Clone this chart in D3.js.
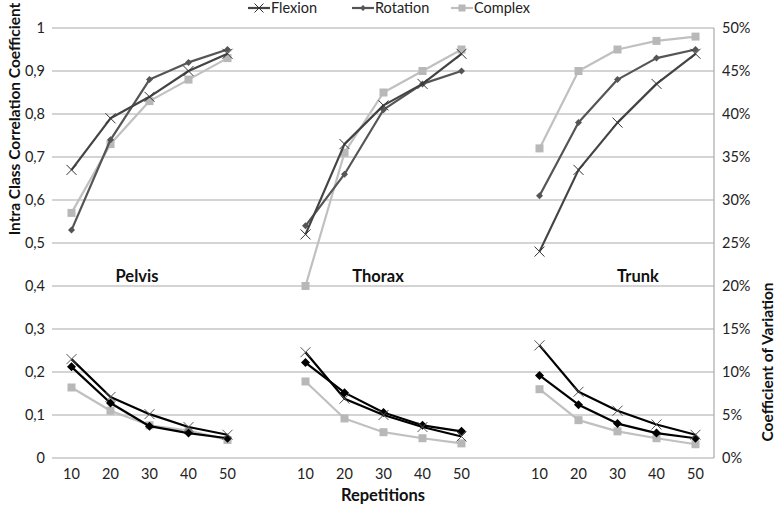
<!DOCTYPE html>
<html><head><meta charset="utf-8">
<script src="https://cdn.jsdelivr.net/npm/d3@7"></script>
<style>body{margin:0;background:#fff}svg{display:block;font-family:Lato,"Open Sans",sans-serif}</style>
</head><body><svg id="c" width="777" height="507"></svg>
<script>
const groups = ["Pelvis","Thorax","Trunk"];
const reps = ["10","20","30","40","50"];
const series = ["Flexion","Rotation","Complex"];
// ICC values (left axis), Pelvis | Thorax | Trunk
const iccFlexion  = [0.67,0.79,0.84,0.90,0.94, 0.52,0.73,0.82,0.87,0.94, 0.48,0.67,0.78,0.87,0.94];
const iccRotation = [0.53,0.74,0.88,0.92,0.95, 0.54,0.66,0.81,0.87,0.90, 0.61,0.78,0.88,0.93,0.95];
const iccComplex  = [0.57,0.73,0.83,0.88,0.93, 0.40,0.71,0.85,0.90,0.95, 0.72,0.90,0.95,0.97,0.98];
// Coefficient of variation (%) (right axis)
const cvFlexion  = [11.5,7.1,5.1,3.6,2.7, 12.3,6.9,5.0,3.6,2.5, 13.1,7.7,5.5,3.9,2.7];
const cvRotation = [10.6,6.4,3.7,2.9,2.3, 11.1,7.6,5.3,3.8,3.1, 9.6,6.2,4.0,2.9,2.3];
const cvComplex  = [8.2,5.5,3.8,3.2,2.1, 8.9,4.6,3.0,2.3,1.7, 8.0,4.4,3.1,2.3,1.6];
const leftTicks = [0,0.1,0.2,0.3,0.4,0.5,0.6,0.7,0.8,0.9,1];
const rightTicks = [0,5,10,15,20,25,30,35,40,45,50];

const svg = d3.select("#c");
const L = 52, R = 714, T = 28, B = 458;
// slots: 5 reps per group plus one blank between groups
const slots = [];
groups.forEach((g,gi)=>{ reps.forEach((r,ri)=>slots.push(g+"-"+r)); if(gi<groups.length-1) slots.push("gap"+gi); });
const x = d3.scaleBand().domain(slots).range([L,R+1]).padding(0);
const cx = i => { const gi = Math.floor(i/5), ri = i%5; return x(groups[gi]+"-"+reps[ri]) + x.bandwidth()/2; };
const yL = d3.scaleLinear().domain([0,1]).range([B,T]);
const yR = d3.scaleLinear().domain([0,50]).range([B,T]);

const grid = "#a9a9a9";
svg.append("g").selectAll("line").data(leftTicks).join("line")
  .attr("x1",L).attr("x2",R).attr("y1",d=>yL(d)).attr("y2",d=>yL(d))
  .attr("stroke",grid).attr("stroke-width",1.2);
svg.append("line").attr("x1",R).attr("x2",R).attr("y1",T).attr("y2",B).attr("stroke",grid).attr("stroke-width",1.2);

const fmtL = d => d===0?"0":d===1?"1":d3.format(".1f")(d).replace(".",",");
const gl = svg.append("g").attr("transform",`translate(${L-4},0)`)
  .call(d3.axisLeft(yL).tickValues(leftTicks).tickFormat(fmtL).tickSize(0));
gl.select(".domain").remove();
gl.selectAll("text").attr("font-size",14.5).attr("fill","#222").attr("font-family","Lato, sans-serif");

const gr = svg.append("g").attr("transform",`translate(${R+8},0)`)
  .call(d3.axisRight(yR).tickValues(rightTicks).tickFormat(d=>d+"%").tickSize(0));
gr.select(".domain").remove();
gr.selectAll("text").attr("font-size",14.5).attr("fill","#222").attr("font-family","Lato, sans-serif").attr("x",0);

const gx = svg.append("g").attr("transform",`translate(0,${B+8})`)
  .call(d3.axisBottom(x).tickSize(0).tickFormat(d=>d.startsWith("gap")?"":d.split("-")[1]));
gx.select(".domain").remove();
gx.selectAll("text").attr("font-size",14.5).attr("fill","#222").attr("font-family","Lato, sans-serif");

svg.append("text").attr("transform","translate(20,119) rotate(-90)").attr("text-anchor","middle")
  .attr("font-weight","bold").attr("font-size",15.5).attr("fill","#111").text("Intra Class Correlation Coefficient");
svg.append("text").attr("transform","translate(773,362) rotate(-90)").attr("text-anchor","middle")
  .attr("font-weight","bold").attr("font-size",15.5).attr("fill","#111").text("Coefficient of Variation");
svg.append("text").attr("x",383).attr("y",501).attr("text-anchor","middle")
  .attr("font-weight","bold").attr("font-size",16.5).attr("fill","#111").text("Repetitions");

const gLabelX = [137,378,638];
groups.forEach((g,i)=>svg.append("text").attr("x",gLabelX[i]).attr("y",282).attr("text-anchor","middle")
  .attr("font-weight","bold").attr("font-size",16.5).attr("fill","#111").text(g));

function marker(sel, type, px, py, color, size){
  const s=size/2;
  if(type==="x"){
    sel.append("path").attr("d",`M${px-s},${py-s}L${px+s},${py+s}M${px-s},${py+s}L${px+s},${py-s}`)
      .attr("stroke",color).attr("stroke-width",1).attr("fill","none");
  } else if(type==="d"){
    sel.append("path").attr("d",`M${px},${py-s}L${px+s},${py}L${px},${py+s}L${px-s},${py}Z`).attr("fill",color);
  } else {
    sel.append("rect").attr("x",px-s).attr("y",py-s).attr("width",size).attr("height",size).attr("fill",color);
  }
}

function drawSeries(vals, yScale, color, mtype, mcolor, msize){
  const g = svg.append("g");
  for(let gi=0; gi<groups.length; gi++){
    const pts = d3.range(5).map(ri=>[cx(gi*5+ri), yScale(vals[gi*5+ri])]);
    g.append("path").attr("d",d3.line()(pts)).attr("fill","none").attr("stroke",color).attr("stroke-width",2.2).attr("stroke-linejoin","round");
    pts.forEach(p=>marker(g,mtype,p[0],p[1],mcolor,msize));
  }
}
drawSeries(iccComplex, yL, "#c0c0c0", "s", "#b8b8b8", 8);
drawSeries(iccRotation, yL, "#555555", "d", "#555555", 7);
drawSeries(iccFlexion, yL, "#444444", "x", "#333333", 10);
drawSeries(cvComplex, yR, "#c0c0c0", "s", "#b8b8b8", 8);
drawSeries(cvRotation, yR, "#000000", "d", "#000000", 9);
drawSeries(cvFlexion, yR, "#000000", "x", "#555555", 10);

const legendX = [248,352,451];
const legColors = [["#444444","x","#333333",9],["#555555","d","#555555",6],["#c0c0c0","s","#b8b8b8",7]];
series.forEach((s,i)=>{
  const g = svg.append("g");
  const lx = legendX[i], ly = 8;
  g.append("line").attr("x1",lx).attr("x2",lx+22).attr("y1",ly).attr("y2",ly).attr("stroke",legColors[i][0]).attr("stroke-width",2.2);
  marker(g, legColors[i][1], lx+11, ly, legColors[i][2], legColors[i][3]);
  g.append("text").attr("x",lx+23).attr("y",ly+5).attr("font-size",14.5).attr("fill","#222").text(s);
});
</script></body></html>
